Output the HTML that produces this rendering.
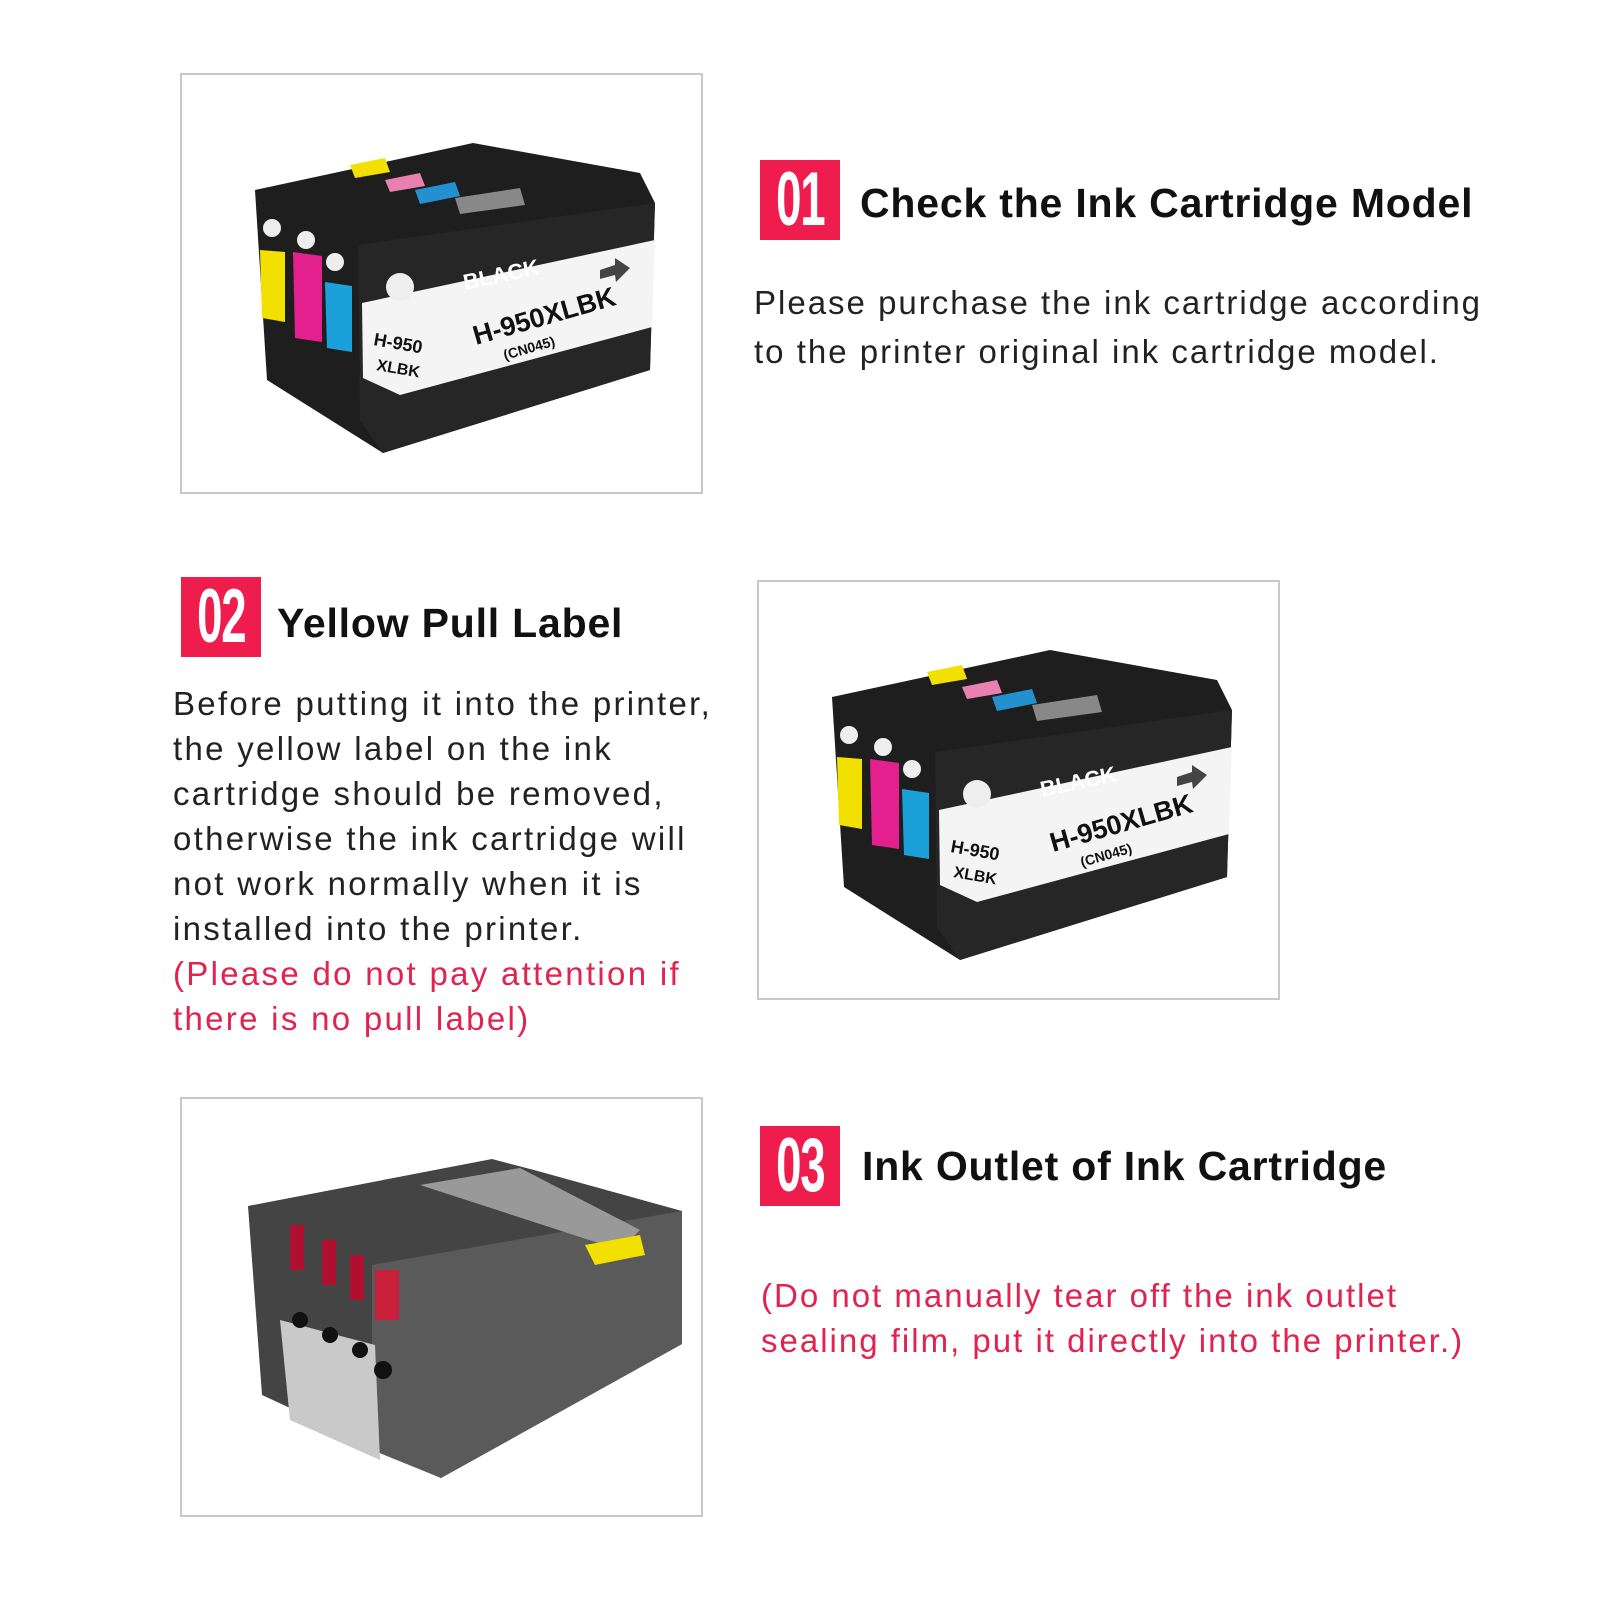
<!DOCTYPE html>
<html><head><meta charset="utf-8"><style>
body{margin:0;background:#fff;width:1601px;height:1601px;position:relative;overflow:hidden;font-family:"Liberation Sans",sans-serif}
.frame{position:absolute;border:2px solid #c8c8c8;box-sizing:border-box;background:#fff}
.num{position:absolute;width:80px;height:80px;background:#ee1d4e;color:#fff;font-weight:bold;font-size:76px;line-height:80px;text-align:center;letter-spacing:-2px;overflow:hidden}
.num span{display:inline-block;transform:scaleX(0.6)}
.ttl{position:absolute;font-weight:bold;font-size:41px;color:#111;white-space:nowrap;letter-spacing:0.8px}
.txt{position:absolute;font-size:33px;color:#222;line-height:45px;white-space:nowrap;letter-spacing:2px}
.red{color:#e0234f}
svg{position:absolute;left:0;top:0}
</style></head><body>
<div class="frame" style="left:180px;top:73px;width:523px;height:421px"></div>
<div class="frame" style="left:757px;top:580px;width:523px;height:420px"></div>
<div class="frame" style="left:180px;top:1097px;width:523px;height:420px"></div>

<svg width="1601" height="1601">
<defs>
<g id="cart">
<polygon points="255,190 473,143 640,173 655,203 650,370 383,453 267,380" fill="#1e1e1e"/>
<polygon points="358,245 655,203 650,370 383,453 360,420" fill="#262626"/>
<polygon points="362,303 655,240 652,327 400,395 363,378" fill="#f4f4f4"/>
<polygon points="260,250 285,252 285,322 262,318" fill="#f2e100"/>
<polygon points="293,252 322,256 322,342 295,338" fill="#e3208e"/>
<polygon points="325,282 352,286 352,352 327,348" fill="#1ba0da"/>
<polygon points="350,165 385,158 390,172 355,178" fill="#f2e100"/>
<polygon points="385,180 420,173 425,186 390,192" fill="#e880b0"/>
<polygon points="415,190 455,182 460,196 420,204" fill="#2590d0"/>
<polygon points="455,198 520,188 525,205 460,214" fill="#888"/>
<circle cx="272" cy="228" r="9" fill="#eee"/>
<circle cx="306" cy="240" r="9" fill="#eee"/>
<circle cx="335" cy="262" r="9" fill="#eee"/>
<circle cx="400" cy="287" r="14" fill="#eee"/>
<text x="465" y="290" transform="rotate(-12 465 290)" fill="#fff" font-weight="bold" font-size="22" font-family="Liberation Sans">BLACK</text>
<text x="476" y="345" transform="rotate(-16 476 345)" fill="#111" font-weight="bold" font-size="27" font-family="Liberation Sans">H-950XLBK</text>
<text x="505" y="360" transform="rotate(-16 505 360)" fill="#111" font-weight="bold" font-size="14" font-family="Liberation Sans">(CN045)</text>
<text x="373" y="345" transform="rotate(10 373 345)" fill="#111" font-weight="bold" font-size="18" font-family="Liberation Sans">H-950</text>
<text x="376" y="370" transform="rotate(10 376 370)" fill="#111" font-weight="bold" font-size="16" font-family="Liberation Sans">XLBK</text>
<polygon points="600,270 615,265 615,258 630,268 616,282 615,275 600,279" fill="#444"/>
</g>
</defs>
<use href="#cart"/>
<use href="#cart" transform="translate(577,507)"/>
<polygon points="248,1206 492,1159 534,1170 682,1211 682,1344 441,1478 262,1395" fill="#444"/>
<polygon points="372,1265 682,1211 682,1344 441,1478 372,1450" fill="#5a5a5a"/>
<polygon points="280,1320 375,1345 380,1460 290,1420" fill="#c9c9c9"/>
<polygon points="420,1185 520,1168 640,1230 620,1250" fill="#999"/>
<rect x="290" y="1225" width="14" height="45" fill="#b01030"/>
<rect x="322" y="1240" width="14" height="45" fill="#b01030"/>
<rect x="350" y="1255" width="14" height="45" fill="#b01030"/>
<rect x="375" y="1270" width="24" height="50" fill="#c8203a"/>
<polygon points="585,1245 640,1235 645,1255 595,1265" fill="#f2e100"/>
<circle cx="300" cy="1320" r="8" fill="#111"/>
<circle cx="330" cy="1335" r="8" fill="#111"/>
<circle cx="360" cy="1350" r="8" fill="#111"/>
<circle cx="383" cy="1370" r="9" fill="#111"/>
</svg>

<div class="num" style="left:760px;top:160px"><span>01</span></div>
<div class="ttl" style="left:860px;top:180px">Check the Ink Cartridge Model</div>
<div class="txt" style="left:754px;top:278px;line-height:49px">Please purchase the ink cartridge according<br>to the printer original ink cartridge model.</div>

<div class="num" style="left:181px;top:577px"><span>02</span></div>
<div class="ttl" style="left:277px;top:600px">Yellow Pull Label</div>
<div class="txt" style="left:173px;top:681px;letter-spacing:2.3px">Before putting it into the printer,<br>the yellow label on the ink<br>cartridge should be removed,<br>otherwise the ink cartridge will<br>not work normally when it is<br>installed into the printer.<br><span class="red">(Please do not pay attention if<br>there is no pull label)</span></div>

<div class="num" style="left:760px;top:1126px"><span>03</span></div>
<div class="ttl" style="left:862px;top:1143px">Ink Outlet of Ink Cartridge</div>
<div class="txt red" style="left:761px;top:1273px">(Do not manually tear off the ink outlet<br>sealing film, put it directly into the printer.)</div>
</body></html>
